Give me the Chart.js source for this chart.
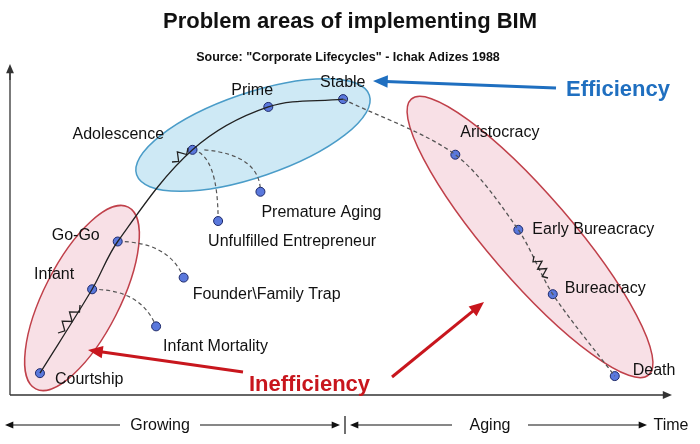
<!DOCTYPE html>
<html>
<head>
<meta charset="utf-8">
<script src="https://cdn.jsdelivr.net/npm/chart.js@4.4.1/dist/chart.umd.min.js"></script>
<style>body{margin:0;background:#fff}canvas{display:block}</style>
</head>
<body>
<canvas id="c" width="700" height="444"></canvas>
<script>
// lifecycle stages (x = time, y = vitality, in picture units)
const stages = ["Courtship", "Infant", "Go-Go", "Adolescence", "Prime", "Stable",
    "Aristocracy", "Early Bureacracy", "Bureacracy", "Death"];
const stageX = [35, 88, 114, 190, 267, 343, 457, 521, 556, 619];
const stageY = [377, 291, 242, 148, 104, 96, 153, 230, 296, 380];

const traps = ["Infant Mortality", "Founder\\Family Trap", "Unfulfilled Entrepreneur", "Premature Aging"];
const trapX = [153, 181, 216, 259];
const trapY = [329, 279, 221, 191];
const trapFrom = [1, 2, 3, 3];

const growingLabel = "Growing", agingLabel = "Aging", timeLabel = "Time";

// label offsets (style only)
const stageOff = [[15, 6], [-58, -15], [-66, -6], [-120, -15], [-37, -16], [-23, -17],
    [5, -22], [14, 0], [12, -6], [18, -5]];
const trapOff = [[7, 20], [9, 17], [-10, 21], [1, 21]];

const pt = (ch, x, y) => [ch.scales.x.getPixelForValue(x), ch.scales.y.getPixelForValue(y)];

const arrow = (ctx, x1, y1, x2, y2, color, w, head) => {
    const a = Math.atan2(y2 - y1, x2 - x1);
    ctx.strokeStyle = color; ctx.fillStyle = color; ctx.lineWidth = w;
    ctx.beginPath(); ctx.moveTo(x1, y1);
    ctx.lineTo(x2 - Math.cos(a) * head * 0.8, y2 - Math.sin(a) * head * 0.8); ctx.stroke();
    ctx.beginPath(); ctx.moveTo(x2, y2);
    ctx.lineTo(x2 - head * Math.cos(a - 0.4), y2 - head * Math.sin(a - 0.4));
    ctx.lineTo(x2 - head * Math.cos(a + 0.4), y2 - head * Math.sin(a + 0.4));
    ctx.closePath(); ctx.fill();
};

const zigzag = (ctx, x1, y1, x2, y2, n, amp) => {
    const dx = x2 - x1, dy = y2 - y1, len = Math.hypot(dx, dy);
    const nx = -dy / len, ny = dx / len;
    ctx.beginPath(); ctx.moveTo(x1, y1);
    for (let i = 1; i < n; i++) {
        const s = (i % 2 ? 1 : -1) * amp;
        ctx.lineTo(x1 + dx * i / n + nx * s, y1 + dy * i / n + ny * s);
    }
    ctx.lineTo(x2, y2); ctx.stroke();
};

const decor = {
    id: "decor",
    beforeDatasetsDraw(ch) {
        const ctx = ch.ctx;
        ctx.save();
        ctx.fillStyle = "#fff"; ctx.fillRect(0, 0, 700, 444);
        const ell = (cx, cy, rx, ry, rot, fill, stroke) => {
            ctx.beginPath(); ctx.ellipse(cx, cy, rx, ry, rot, 0, Math.PI * 2);
            ctx.fillStyle = fill; ctx.fill();
            ctx.strokeStyle = stroke; ctx.lineWidth = 1.5; ctx.stroke();
        };
        ell(253, 135, 123, 42, -0.33, "rgba(190,225,242,0.75)", "#4a9cc8");
        ell(82, 298, 102, 38, -1.1, "rgba(246,214,222,0.75)", "#c0404a");
        ell(530, 237, 182, 42, 0.86, "rgba(246,214,222,0.75)", "#c0404a");
        // dashed branches to traps
        ctx.strokeStyle = "#555"; ctx.lineWidth = 1.2; ctx.setLineDash([4, 3]);
        trapX.forEach((tx, i) => {
            const [sx, sy] = pt(ch, stageX[trapFrom[i]] + (i === 3 ? 12 : 0), stageY[trapFrom[i]]);
            const [ex, ey] = pt(ch, tx, trapY[i]);
            ctx.beginPath(); ctx.moveTo(sx, sy);
            ctx.quadraticCurveTo(i < 2 ? ex - 15 : ex, i < 2 ? sy : sy + 5, ex, ey); ctx.stroke();
        });
        ctx.setLineDash([]);
        // axes
        ctx.strokeStyle = "#333"; ctx.lineWidth = 1.3;
        ctx.beginPath(); ctx.moveTo(10, 395); ctx.lineTo(10, 72); ctx.stroke();
        arrow(ctx, 10, 80, 10, 64, "#333", 1.3, 10);
        arrow(ctx, 10, 395, 672, 395, "#333", 1.3, 10);
        ctx.restore();
    },
    afterDatasetsDraw(ch) {
        const ctx = ch.ctx;
        ctx.save();
        ctx.strokeStyle = "#222"; ctx.lineWidth = 1.3;
        zigzag(ctx, 58, 333, 80, 305, 6, 4);
        zigzag(ctx, 172, 162, 188, 148, 4, 4);
        zigzag(ctx, 534, 256, 548, 278, 6, 4);
        ctx.fillStyle = "#111"; ctx.font = "16px 'Liberation Sans', Arial";
        ctx.textBaseline = "middle";
        stages.forEach((s, i) => {
            const [x, y] = pt(ch, stageX[i], stageY[i]);
            ctx.fillText(s, x + stageOff[i][0], y + stageOff[i][1]);
        });
        traps.forEach((s, i) => {
            const [x, y] = pt(ch, trapX[i], trapY[i]);
            ctx.fillText(s, x + trapOff[i][0], y + trapOff[i][1]);
        });
        ctx.textAlign = "center";
        ctx.font = "bold 22px 'Liberation Sans', Arial";
        ctx.fillText("Problem areas of implementing BIM", 350, 22);
        ctx.font = "bold 12.5px 'Liberation Sans', Arial";
        ctx.fillText('Source: "Corporate Lifecycles" - Ichak Adizes 1988', 348, 58);
        ctx.font = "bold 22px 'Liberation Sans', Arial";
        ctx.fillStyle = "#1f6fc0"; ctx.textAlign = "left";
        ctx.fillText("Efficiency", 566, 90);
        arrow(ctx, 556, 88, 373, 81, "#1f6fc0", 3, 16);
        ctx.fillStyle = "#c8161d";
        ctx.fillText("Inefficiency", 249, 385);
        arrow(ctx, 243, 372, 88, 350, "#c8161d", 3, 16);
        arrow(ctx, 392, 377, 484, 302, "#c8161d", 3, 16);
        // bottom time bar
        ctx.fillStyle = "#111"; ctx.font = "16px 'Liberation Sans', Arial";
        ctx.textAlign = "center";
        ctx.strokeStyle = "#111"; ctx.lineWidth = 1.2;
        arrow(ctx, 120, 425, 5, 425, "#111", 1.2, 9);
        arrow(ctx, 200, 425, 340, 425, "#111", 1.2, 9);
        arrow(ctx, 452, 425, 350, 425, "#111", 1.2, 9);
        arrow(ctx, 528, 425, 647, 425, "#111", 1.2, 9);
        ctx.beginPath(); ctx.moveTo(345, 416); ctx.lineTo(345, 434); ctx.stroke();
        ctx.fillText(growingLabel, 160, 426);
        ctx.fillText(agingLabel, 490, 426);
        ctx.fillText(timeLabel, 671, 426);
        ctx.restore();
    }
};

const all = stageX.map((x, i) => ({ x, y: stageY[i] }));
new Chart(document.getElementById("c"), {
    type: "scatter",
    data: {
        datasets: [
            { data: all.slice(0, 6), showLine: true, tension: 0.35, borderColor: "#222", borderWidth: 1.3, pointRadius: 0 },
            { data: all.slice(5), showLine: true, tension: 0.3, borderColor: "#555", borderWidth: 1.3, borderDash: [4, 3], pointRadius: 0 },
            { data: all.concat(trapX.map((x, i) => ({ x, y: trapY[i] }))), pointRadius: 4.5,
              backgroundColor: "#5a78dc", borderColor: "#1e2a6a", borderWidth: 1 }
        ]
    },
    options: {
        responsive: false, animation: false,
        layout: { padding: 0 },
        plugins: { legend: { display: false }, tooltip: { enabled: false } },
        scales: {
            x: { type: "linear", min: 0, max: 700, display: false },
            y: { type: "linear", min: 0, max: 444, reverse: true, display: false }
        }
    },
    plugins: [decor]
});
</script>
</body>
</html>
